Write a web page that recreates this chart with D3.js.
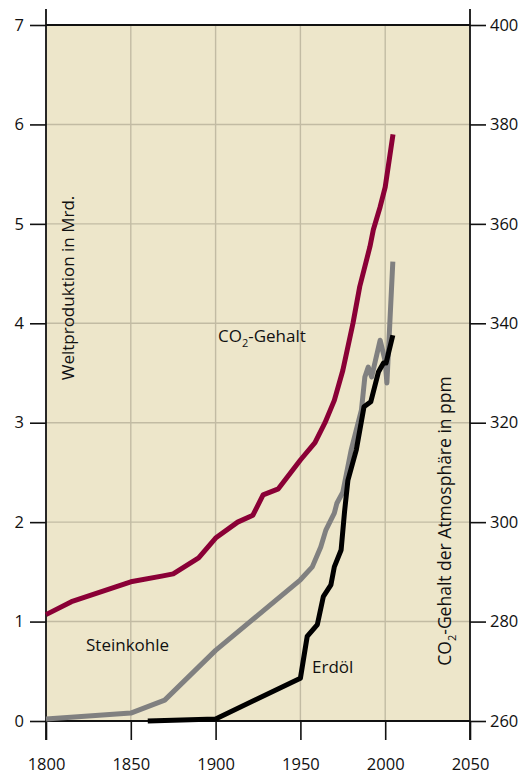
<!DOCTYPE html>
<html>
<head>
<meta charset="utf-8">
<script src="https://cdn.jsdelivr.net/npm/d3@7"></script>
<style>
  body { margin: 0; background: #fff; }
  text { font-family: 'Open Sans', 'Noto Sans', sans-serif; fill: #111; }
</style>
</head>
<body>
<div id="chart"></div>
<script>
// CO2-Gehalt (ppm, rechte Achse)
const co2Years = [1800, 1815, 1850, 1869, 1875, 1890, 1900, 1913, 1922, 1928, 1937, 1950, 1958.6, 1964.5, 1970, 1975, 1981, 1985, 1991, 1993, 1997, 2000, 2004.6]
const co2Values = [281.4, 284, 288, 289.2, 289.6, 292.8, 296.8, 300, 301.4, 305.5, 306.7, 312.5, 316, 320, 324.5, 330.5, 340, 347.4, 355.4, 358.8, 363.4, 367.4, 378]

// Steinkohle (Mrd., linke Achse)
const coalYears = [1800, 1850, 1870, 1900, 1950, 1957, 1962, 1965, 1970, 1971.5, 1975, 1980, 1986, 1988, 1990, 1992, 1997, 2000, 2001, 2004.5]
const coalValues = [0.02, 0.08, 0.21, 0.71, 1.42, 1.55, 1.75, 1.92, 2.09, 2.19, 2.3, 2.73, 3.13, 3.46, 3.56, 3.46, 3.83, 3.62, 3.4, 4.62]

// Erdöl (Mrd., linke Achse)
const oilYears = [1860, 1900, 1950, 1954, 1960, 1963.5, 1968, 1970, 1974, 1976, 1978, 1983, 1987.5, 1991.5, 1996, 1999, 2000.5, 2004.5]
const oilValues = [0.0, 0.02, 0.43, 0.85, 0.97, 1.25, 1.37, 1.55, 1.72, 2.1, 2.42, 2.73, 3.16, 3.21, 3.51, 3.6, 3.6, 3.88]

const xTicks = [1800, 1850, 1900, 1950, 2000, 2050]
const leftTicks = [0, 1, 2, 3, 4, 5, 6, 7]
const rightTicks = [260, 280, 300, 320, 340, 360, 380, 400]

const width = 526
const height = 776
const mLeft = 46, mRight = 470, mTop = 25, mBottom = 721

const svg = d3.select('#chart')
  .append('svg')
  .attr('width', width)
  .attr('height', height)

const x = d3.scaleLinear().domain([1800, 2050]).range([mLeft, mRight])
const yL = d3.scaleLinear().domain([0, 7]).range([mBottom, mTop])
const yR = d3.scaleLinear().domain([260, 400]).range([mBottom, mTop])

// Hintergrund
svg.append('rect')
  .attr('x', mLeft).attr('y', mTop)
  .attr('width', mRight - mLeft).attr('height', mBottom - mTop)
  .attr('fill', '#ede6ca')

// Gitter
const grid = svg.append('g').attr('stroke', '#c2bba3').attr('stroke-width', 1.4)
grid.selectAll('line.h')
  .data(leftTicks.filter(d => d > 0 && d < 7))
  .enter().append('line')
  .attr('x1', mLeft).attr('x2', mRight)
  .attr('y1', d => yL(d)).attr('y2', d => yL(d))
grid.selectAll('line.v')
  .data(xTicks.filter(d => d > 1800 && d < 2050))
  .enter().append('line')
  .attr('x1', d => x(d)).attr('x2', d => x(d))
  .attr('y1', mTop).attr('y2', mBottom)

// Achsen
const axisLeft = d3.axisLeft(yL).tickValues(leftTicks).tickSize(16).tickPadding(6).tickFormat(d3.format('d'))
const axisRight = d3.axisRight(yR).tickValues(rightTicks).tickSize(16).tickPadding(4).tickFormat(d3.format('d'))
const axisBottom = d3.axisBottom(x).tickValues(xTicks).tickSize(19).tickPadding(18).tickFormat(d3.format('d'))

function styleAxis(g) {
  g.select('.domain').remove()
  g.selectAll('line').attr('stroke', '#111').attr('stroke-width', 1.6)
  g.selectAll('text').attr('font-size', 16.5).attr('font-family', "'Open Sans', sans-serif").attr('fill', '#111')
}

svg.append('g').attr('transform', `translate(${mLeft},0)`).call(axisLeft).call(styleAxis)
svg.append('g').attr('transform', `translate(${mRight},0)`).call(axisRight).call(styleAxis)
svg.append('g').attr('transform', `translate(0,${mBottom})`).call(axisBottom).call(styleAxis)

// Rahmen
const frame = svg.append('g').attr('stroke', '#111').attr('stroke-width', 1.8)
frame.append('line').attr('x1', mLeft).attr('x2', mLeft).attr('y1', 9).attr('y2', 740)
frame.append('line').attr('x1', mRight).attr('x2', mRight).attr('y1', 9).attr('y2', 740)
frame.append('line').attr('x1', mLeft).attr('x2', mRight).attr('y1', mTop).attr('y2', mTop)
frame.append('line').attr('x1', mLeft).attr('x2', mRight).attr('y1', mBottom).attr('y2', mBottom)

// Linien
const line = (ys, vs, scale) => d3.line()
  .x((d, i) => x(ys[i]))
  .y(d => scale(d))(vs)

svg.append('path')
  .attr('d', line(coalYears, coalValues, yL))
  .attr('fill', 'none').attr('stroke', '#808080').attr('stroke-width', 5)
  .attr('stroke-linejoin', 'round')

svg.append('path')
  .attr('d', line(oilYears, oilValues, yL))
  .attr('fill', 'none').attr('stroke', '#000').attr('stroke-width', 5)
  .attr('stroke-linejoin', 'round')

svg.append('path')
  .attr('d', line(co2Years, co2Values, yR))
  .attr('fill', 'none').attr('stroke', '#8a0036').attr('stroke-width', 5)
  .attr('stroke-linejoin', 'round')

// Beschriftungen
const lab = svg.append('g').attr('font-size', 17)
const co2Label = lab.append('text').attr('x', 218).attr('y', 342)
co2Label.append('tspan').text('CO')
co2Label.append('tspan').text('2').attr('font-size', 11).attr('dy', 5)
co2Label.append('tspan').text('-Gehalt').attr('dy', -5)

lab.append('text').attr('x', 86).attr('y', 651).text('Steinkohle')
lab.append('text').attr('x', 312).attr('y', 673).text('Erdöl')

lab.append('text')
  .attr('transform', 'translate(74,288) rotate(-90)')
  .attr('text-anchor', 'middle')
  .text('Weltproduktion in Mrd.')

const rt = lab.append('text')
  .attr('font-size', 17.5)
  .attr('transform', 'translate(451,521) rotate(-90)')
  .attr('text-anchor', 'middle')
rt.append('tspan').text('CO')
rt.append('tspan').text('2').attr('font-size', 11).attr('dy', 5)
rt.append('tspan').text('-Gehalt der Atmosphäre in ppm').attr('dy', -5)
</script>
</body>
</html>
